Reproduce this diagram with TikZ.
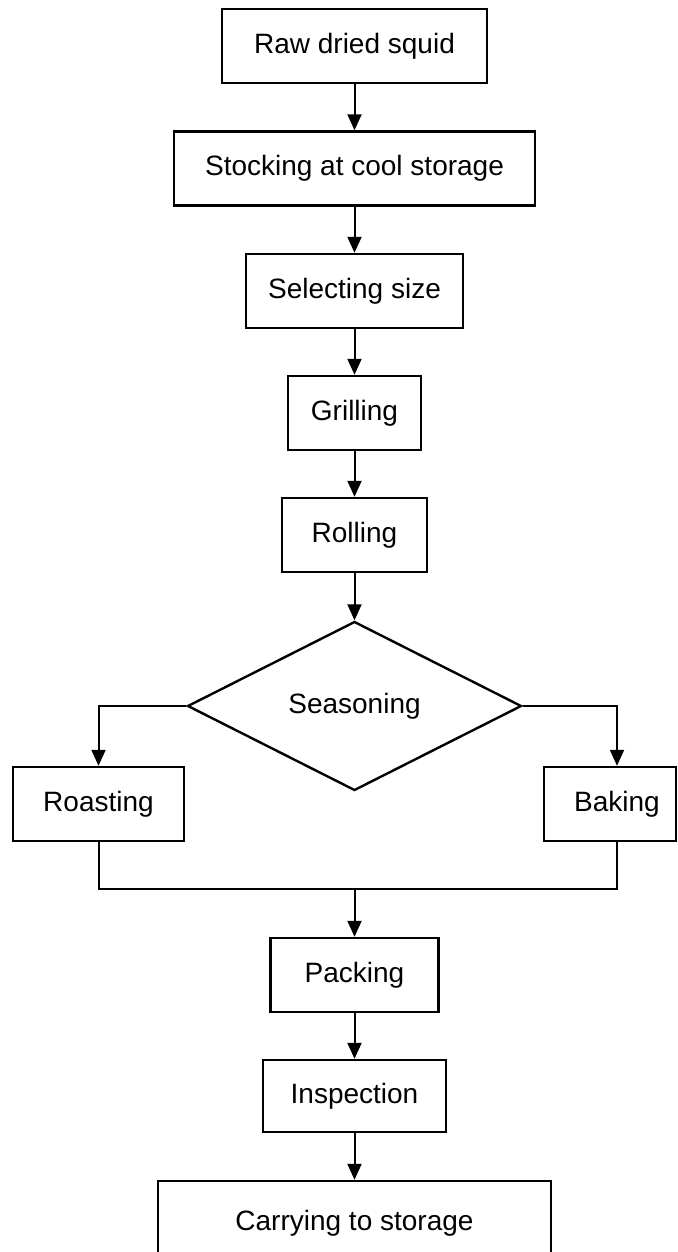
\documentclass[tikz,border=0pt]{standalone}
\usepackage{fontspec}
\setmainfont{Liberation Sans}
\usetikzlibrary{shapes.geometric,arrows.meta}
\begin{document}
\begin{tikzpicture}[x=0.5pt,y=-0.5pt,
  box/.style={draw, line width=1.2pt, inner sep=0pt, font=\fontsize{14}{16}\selectfont, minimum height=37pt},
  flow/.style={line width=1pt, -{Triangle[length=8pt,width=7pt]}},
  link/.style={line width=1pt}]
\useasboundingbox (0,0) rectangle (677,1252);
\fill[white] (0,0) rectangle (677,1252);
\node[box, minimum width=132.5pt] (raw) at (354.5,46) {Raw dried squid};
\node[box, minimum width=180.5pt] (stock) at (354.5,168.5) {Stocking at cool storage};
\node[box, minimum width=108.5pt] (select) at (354.5,291) {Selecting size};
\node[box, minimum width=66.5pt] (grill) at (354.5,413) {Grilling};
\node[box, minimum width=72.5pt] (roll) at (354.5,535) {Rolling};
\node[box, diamond, minimum width=167pt, minimum height=84.5pt] (dia) at (354.5,706) {\raisebox{3pt}{Seasoning}};
\node[box, minimum width=85.5pt] (roast) at (98.5,804) {Roasting};
\node[box, minimum width=66pt] (bake) at (610,804) {\hspace*{7pt}Baking};
\node[box, minimum width=84pt] (pack) at (354.5,975) {Packing};
\node[box, minimum width=91.5pt, minimum height=36pt] (insp) at (354.5,1096) {Inspection};
\node[box, minimum width=196.5pt, minimum height=42pt] (carry) at (354.5,1223) {Carrying to storage};
\coordinate (join) at (354.5,889);
\draw[flow] (raw) -- (stock);
\draw[flow] (stock) -- (select);
\draw[flow] (select) -- (grill);
\draw[flow] (grill) -- (roll);
\draw[flow] (roll) -- (dia);
\draw[flow] (dia.west) -| (roast.north);
\draw[flow] (dia.east) -| ([xshift=3.5pt]bake.north);
\draw[link] (roast.south) |- (join);
\draw[link] ([xshift=3.5pt]bake.south) |- (join);
\draw[flow] (join) -- (pack);
\draw[flow] (pack) -- (insp);
\draw[flow] (insp) -- (carry);
\end{tikzpicture}
\end{document}
